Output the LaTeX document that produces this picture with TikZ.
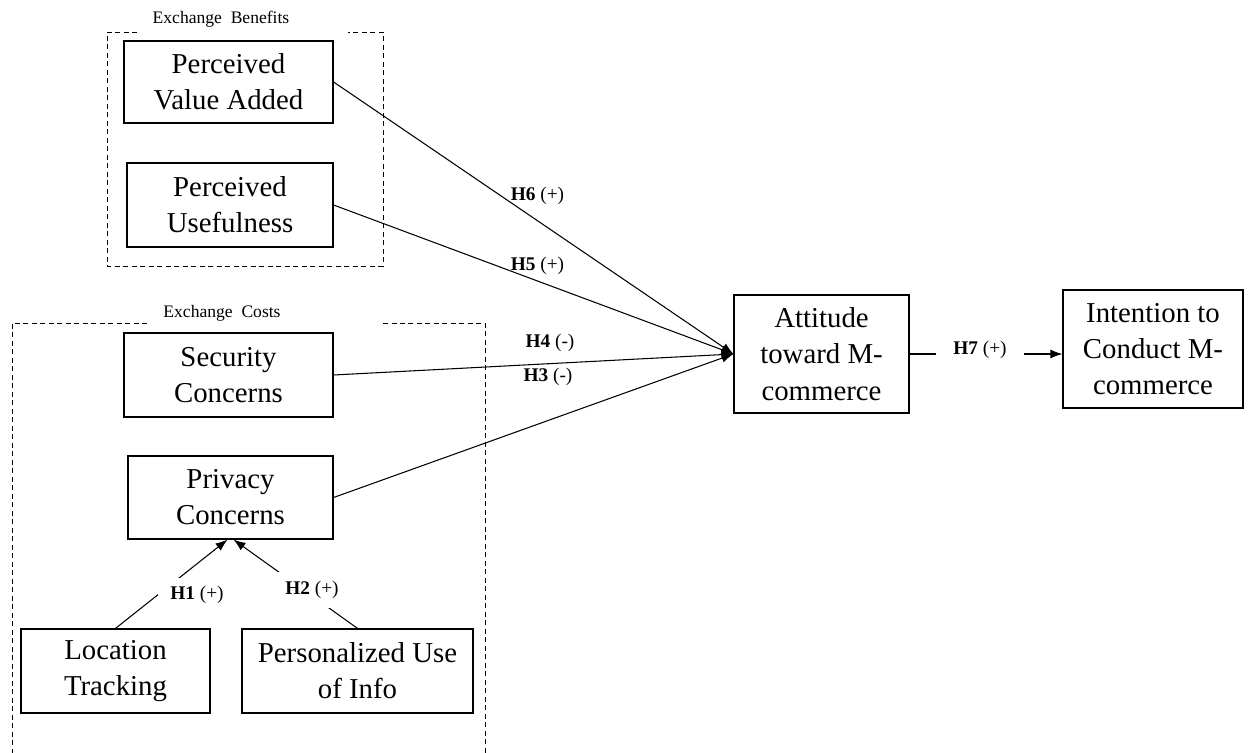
\documentclass[tikz,border=0pt]{standalone}
\usepackage{fontspec}
\setmainfont{Liberation Serif}
\usetikzlibrary{arrows.meta}

\begin{document}
\begin{tikzpicture}[x=0.02cm,y=-0.02cm,
  box/.style={draw,line width=0.7pt,align=center,inner sep=0pt,font=\fontsize{16.4}{20.6}\selectfont},
  grp/.style={dash pattern=on 0.1cm off 0.07cm,line width=0.55pt},
  grplab/.style={font=\fontsize{10}{12}\selectfont,inner sep=0pt},
  hyp/.style={font=\fontsize{11}{13}\selectfont,inner sep=0pt},
  link/.style={line width=0.6pt,-{Latex[length=2.4mm,width=1.8mm]}}]
\useasboundingbox (0,0) rectangle (1252,753);
% group frames
\draw [grp] (137,32) -- (107,32) -- (107,266) -- (383,266) -- (383,32) -- (348,32);
\node [grplab] (benefits) at (221,19) {Exchange~~Benefits};
\draw [grp] (147,323) -- (12,323) -- (12,755);
\draw [grp] (383,323) -- (485,323) -- (485,755);
\node [grplab] (costs) at (222,313) {Exchange~~Costs};
% constructs
\node [box,minimum width=4.18cm,minimum height=1.64cm] (pva) at (228.5,82) {Perceived\\Value Added};
\node [box,minimum width=4.12cm,minimum height=1.68cm] (pu) at (230,205) {Perceived\\Usefulness};
\node [box,minimum width=4.18cm,minimum height=1.68cm] (sec) at (228.5,375) {Security\\Concerns};
\node [box,minimum width=4.10cm,minimum height=1.66cm] (priv) at (230.5,497.5) {Privacy\\Concerns};
\node [box,minimum width=3.78cm,minimum height=1.68cm] (loc) at (115.5,671) {Location\\Tracking};
\node [box,minimum width=4.62cm,minimum height=1.68cm] (pers) at (357.5,671) {Personalized Use\\of Info};
\node [box,minimum width=3.50cm,minimum height=2.36cm] (att) at (821.5,354) {Attitude\\toward M-\\commerce};
\node [box,minimum width=3.60cm,minimum height=2.36cm] (int) at (1153,349) {Intention to\\Conduct M-\\commerce};
% paths
\draw [link] (pva.east) -- (att.west);
\draw [link] (pu.east) -- (att.west);
\draw [link] (sec.east) -- (att.west);
\draw [link] (priv.east) -- (att.west);
\draw [link] (loc.north) -- ([xshift=-0.06cm]priv.south);
\draw [link] (pers.north) -- ([xshift=0.06cm]priv.south);
\draw [link] (att.east) -- (att.east -| int.west);
% hypotheses
\node [hyp] (h6) at (537.5,196) {\textbf{H6} (+)};
\node [hyp] (h5) at (537.5,266) {\textbf{H5} (+)};
\node [hyp] (h4) at (550,343) {\textbf{H4} (-)};
\node [hyp] (h3) at (548,377) {\textbf{H3} (-)};
\node [hyp,fill=white,minimum width=1.56cm,minimum height=0.7cm] (h1) at (197,595) {\textbf{H1} (+)};
\node [hyp,fill=white,minimum width=1.4cm,minimum height=0.74cm] (h2) at (312,590) {\textbf{H2} (+)};
\node [hyp,fill=white,minimum width=1.76cm,minimum height=0.5cm] (h7) at (980,350) {\textbf{H7} (+)};
\end{tikzpicture}
\end{document}
